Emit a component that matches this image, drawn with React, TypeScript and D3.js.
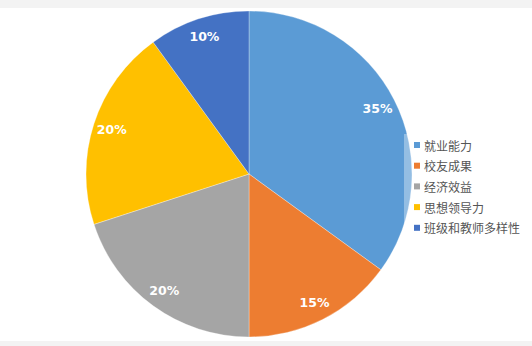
import React from "react";
import * as d3 from "d3";

const categories = ["就业能力", "校友成果", "经济效益", "思想领导力", "班级和教师多样性"];
const values = [35, 15, 20, 20, 10];
const colors = ["#5B9BD5", "#ED7D31", "#A5A5A5", "#FFC000", "#4472C4"];

const W = 532;
const H = 346;
const cx = 249;
const cy = 174;
const r = 163;

export default function App() {
  const pie = d3.pie<number>().sort(null).value((d) => d);
  const arcs = pie(values);
  const arc = d3.arc<d3.PieArcDatum<number>>().innerRadius(0).outerRadius(r);
  const labelArc = d3.arc<d3.PieArcDatum<number>>().innerRadius(r * 0.885).outerRadius(r * 0.885);
  const total = d3.sum(values);

  return (
    <svg
      width={W}
      height={H}
      style={{ position: "fixed", left: 0, top: 0, background: "#fff" }}
      fontFamily="'Noto Sans CJK SC', 'Noto Sans', sans-serif"
    >
      <rect x={0} y={0} width={W} height={8} fill="#f3f3f3" />
      <rect x={0} y={341} width={W} height={5} fill="#f3f3f3" />
      <g transform={`translate(${cx},${cy})`}>
        {arcs.map((a, i) => (
          <path key={i} d={arc(a) ?? ""} fill={colors[i]} stroke="#ffffff" strokeWidth={0.6} strokeOpacity={0.5} />
        ))}
        {arcs.map((a, i) => {
          const [x, y] = labelArc.centroid(a);
          return (
            <text
              key={i}
              x={x}
              y={y}
              textAnchor="middle"
              dominantBaseline="central"
              fill="#fff"
              fontWeight="bold"
              fontSize={12.5}
              fontFamily="'DejaVu Sans', sans-serif"
            >
              {`${Math.round((values[i] / total) * 100)}%`}
            </text>
          );
        })}
      </g>
      <rect x={404} y={134} width={128} height={104} fill="#ffffff" fillOpacity={0.35} />
      {categories.map((c, i) => (
        <g key={c} transform={`translate(414,${145 + i * 20.7})`}>
          <rect x={0} y={-3} width={6} height={6} fill={colors[i]} />
          <text x={10} y={0} dominantBaseline="central" fontSize={12} fill="#555">
            {c}
          </text>
        </g>
      ))}
    </svg>
  );
}
